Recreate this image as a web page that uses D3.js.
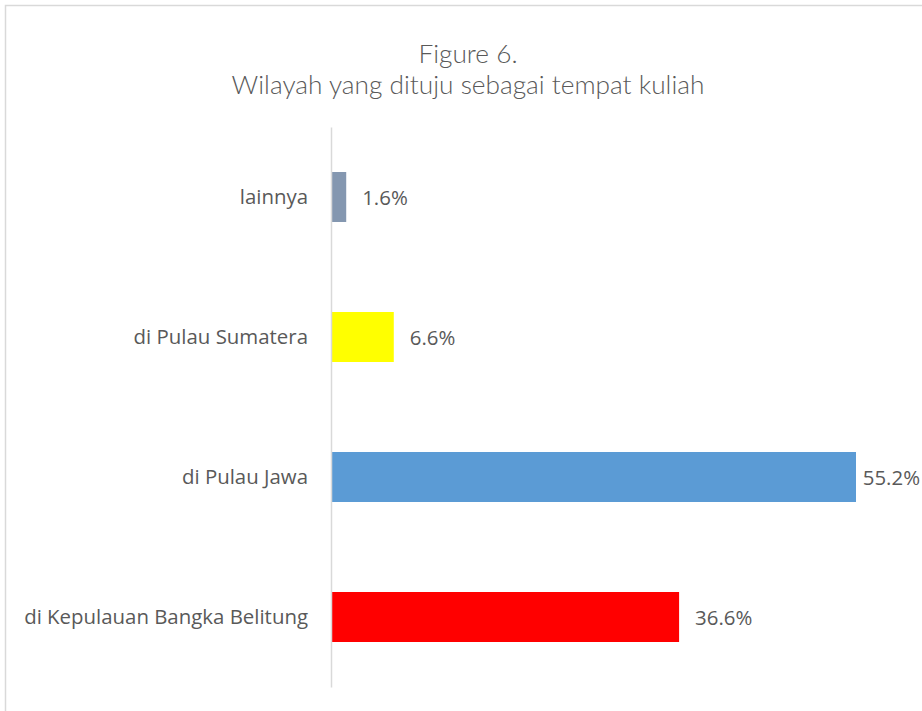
<!DOCTYPE html>
<html>
<head>
<meta charset="utf-8">
<script src="https://cdn.jsdelivr.net/npm/d3@7"></script>
<style>
  html, body { margin: 0; padding: 0; background: #fff; }
  svg { display: block; }
</style>
</head>
<body>
<svg id="chart" width="922" height="711"></svg>
<script>
const titleLines = ["Figure 6.", "Wilayah yang dituju sebagai tempat kuliah"];
const categories = ["lainnya", "di Pulau Sumatera", "di Pulau Jawa", "di Kepulauan Bangka Belitung"];
const values = [1.6, 6.6, 55.2, 36.6];
const colors = ["#8497B0", "#FFFF00", "#5B9BD5", "#FF0000"];

const svg = d3.select("#chart");
const W = 922, H = 711;
const FONT = "'Open Sans', 'Noto Sans', sans-serif";
const TFONT = "Lato, 'Open Sans', sans-serif";

// fit a font size so that a given text reaches a target width
function fitSize(text, family, weight, target) {
  const t = svg.append("text").attr("font-family", family).attr("font-weight", weight)
    .attr("font-size", 20).text(text);
  const w = t.node().getComputedTextLength();
  t.remove();
  return 20 * target / w;
}

// outer frame
svg.append("rect")
  .attr("x", 5.5).attr("y", 5.5)
  .attr("width", 940).attr("height", 730)
  .attr("fill", "#fff").attr("stroke", "#d9d9d9").attr("stroke-width", 1.5);

// title
const tSize = fitSize(titleLines[1], TFONT, 300, 473);
const title = svg.append("text")
  .attr("text-anchor", "middle")
  .attr("font-family", TFONT)
  .attr("font-weight", 300)
  .attr("font-size", tSize)
  .attr("fill", "#595959");
title.selectAll("tspan").data(titleLines).join("tspan")
  .attr("x", 468)
  .attr("y", (d, i) => 63 + i * 31)
  .text(d => d);

const x0 = 331;
const x = d3.scaleLinear().domain([0, 55.2]).range([x0, 856]);
const y = d3.scaleBand().domain(categories).range([127, 687]).paddingInner(90 / 140).paddingOuter(45 / 140);

const lSize = fitSize(categories[3], FONT, 400, 284);

// bars
svg.append("g").selectAll("rect").data(categories).join("rect")
  .attr("x", x0)
  .attr("y", d => y(d))
  .attr("width", (d, i) => x(values[i]) - x0)
  .attr("height", y.bandwidth())
  .attr("fill", (d, i) => colors[i]);

// axis
const axis = svg.append("g")
  .attr("transform", `translate(${x0},0)`)
  .call(d3.axisLeft(y).tickSize(0).tickPadding(23));
axis.select(".domain").attr("stroke", "#d9d9d9").attr("stroke-width", 1.5);
axis.selectAll(".tick text")
  .attr("font-family", FONT)
  .attr("font-size", lSize)
  .attr("fill", "#595959")
  .attr("dy", null)
  .attr("y", 6.5);

// value labels
const vl = svg.append("g").selectAll("text").data(categories).join("text")
  .attr("y", d => y(d) + y.bandwidth() / 2 + 8)
  .attr("font-family", FONT)
  .attr("font-size", lSize)
  .attr("fill", "#595959")
  .text((d, i) => values[i].toFixed(1) + "%");
vl.attr("x", function (d, i) {
  const w = this.getComputedTextLength();
  return Math.min(x(values[i]) + 16, W - 2 - w);
});
</script>
</body>
</html>
